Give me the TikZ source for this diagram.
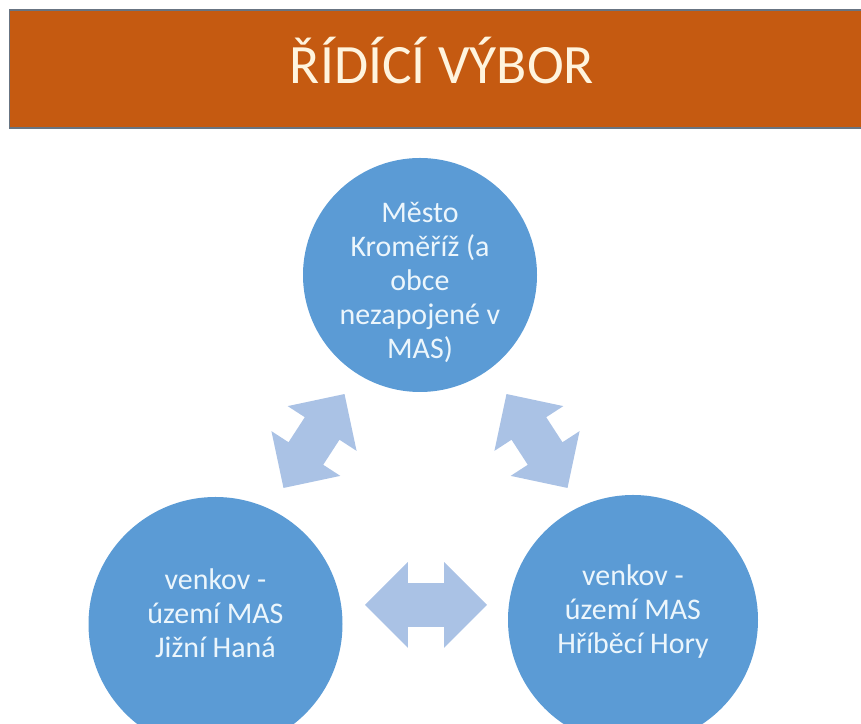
\documentclass[tikz,border=0pt]{standalone}
\usepackage{fontspec}
\setmainfont{Carlito}
\usetikzlibrary{shapes.geometric}
\usetikzlibrary{shapes.arrows}

\definecolor{barorange}{RGB}{197,90,17}
\definecolor{bargrey}{RGB}{104,116,130}
\definecolor{titletext}{RGB}{255,244,222}
\definecolor{circleblue}{RGB}{91,155,213}
\definecolor{circletext}{RGB}{236,246,252}
\definecolor{arrowblue}{RGB}{170,194,229}

\begin{document}
\begin{tikzpicture}[
    member/.style={circle,fill=circleblue,text=circletext,align=center,
        inner sep=0pt,font=\fontsize{21.3}{24.2}\selectfont},
    twoway/.style={double arrow,fill=arrowblue,inner xsep=0pt,
        double arrow tip angle=90,minimum height=#1}
    ]
    \useasboundingbox (0,0) rectangle (21.525,18.1);
    \clip (0,0) rectangle (21.525,18.1);
    \node at (11.02,16.375) [rectangle,fill=barorange,draw=bargrey,line width=1pt,
        minimum width=21.5625cm,minimum height=2.95cm] (bar) {};
    \node at (11.05,16.0) [anchor=base,text=titletext,
        font=\fontsize{39.5}{47}\selectfont] (title) {ŘÍDÍCÍ VÝBOR};
    \node at (10.5,11.225) [member,minimum size=5.85cm,text height=122pt,
        inner sep=-4pt] (mesto)
        {Město\\Kroměříž (a\\obce\\nezapojené v\\MAS)};
    \node at (5.3875,2.5) [member,minimum size=6.35cm,text depth=16pt] (jizni)
        {venkov -\\území MAS\\Jižní Haná};
    \node at (15.825,2.6) [member,minimum size=6.25cm,text depth=16pt] (hribeci)
        {venkov -\\území MAS\\Hříběcí Hory};
    \node at (10.65,2.975) [twoway=3.05cm,inner ysep=0.5375cm,
        double arrow head extend=0.525cm] (dole) {};
    \node at (7.85,7.075) [twoway=2.8cm,inner ysep=0.51cm,
        double arrow head extend=0.51cm,rotate=57] (vlevo) {};
    \node at (13.425,7.075) [twoway=2.8cm,inner ysep=0.51cm,
        double arrow head extend=0.51cm,rotate=123] (vpravo) {};
\end{tikzpicture}
\end{document}
